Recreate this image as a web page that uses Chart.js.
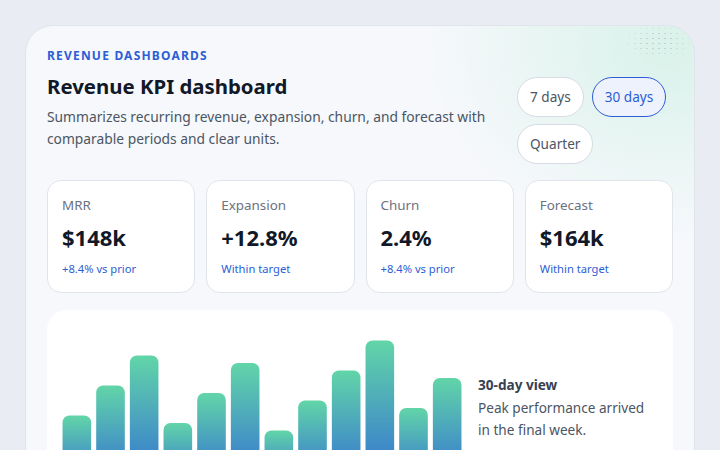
<!DOCTYPE html>
<html>
<head>
<meta charset="utf-8">
<script src="https://cdn.jsdelivr.net/npm/chart.js@4.4.1/dist/chart.umd.min.js"></script>
<style>
  html, body { margin: 0; padding: 0; }
  body {
    width: 720px; height: 450px; overflow: hidden;
    background: #e9ecf3;
    font-family: "Noto Sans", "Open Sans", sans-serif;
    position: relative;
  }
  .shell {
    position: absolute; left: 25px; top: 25px; width: 670px; height: 520px;
    box-sizing: border-box;
    border-radius: 28px; border: 1px solid #e0e4eb;
    background:
      radial-gradient(ellipse 240px 190px at 96% 4%, rgba(212, 241, 231, 0.85), rgba(212, 241, 231, 0) 100%),
      #f6f8fb;
    overflow: hidden;
  }
  .dots {
    position: absolute; right: 4px; top: 0; width: 70px; height: 40px;
    background-image: radial-gradient(circle, #bccfd5 0.7px, transparent 1.1px);
    background-size: 6px 5px;
    -webkit-mask-image: radial-gradient(ellipse 36px 18px at 55% 40%, #000 35%, transparent 100%);
    mask-image: radial-gradient(ellipse 36px 18px at 55% 40%, #000 35%, transparent 100%);
  }
  .eyebrow {
    position: absolute; left: 21px; top: 22px;
    font-size: 12px; font-weight: 700; letter-spacing: 1.2px; color: #2c5ed6;
    line-height: 16px;
  }
  h1 {
    position: absolute; left: 21px; top: 44px; margin: 0;
    font-size: 20.4px; font-weight: 700; color: #111827; line-height: 32px;
  }
  .desc {
    position: absolute; left: 21px; top: 80px; width: 450px; margin: 0;
    font-size: 13.8px; color: #4b5563; line-height: 22px;
  }
  .ranges {
    position: absolute; left: 491px; top: 51px; width: 160px;
    display: flex; flex-wrap: wrap; gap: 7px 8px;
  }
  .ranges span {
    display: inline-block; height: 40px; line-height: 38px; box-sizing: border-box;
    padding: 0 12px; border-radius: 20px; border: 1px solid #d6dbe4;
    background: #fff; color: #4b5563; font-size: 13.6px;
  }
  .ranges span.on { border-color: #2c5ed6; background: #edf2fd; color: #2c5ed6; }
  .kpis {
    position: absolute; left: 21px; top: 154px; width: 626px;
    display: grid; grid-template-columns: repeat(4, 1fr); gap: 11px;
  }
  .kpi {
    height: 113px; box-sizing: border-box; padding: 14px 14px;
    background: #fff; border: 1px solid #e0e4eb; border-radius: 14px;
  }
  .kpi .label { font-size: 13.4px; color: #6b7280; line-height: 20px; }
  .kpi .value { font-size: 22px; font-weight: 700; color: #111827; line-height: 30px; margin-top: 7px; }
  .kpi .note { font-size: 11.2px; color: #2c5ed6; line-height: 16px; margin-top: 9px; }
  .panel {
    position: absolute; left: 21px; top: 284px; width: 626px; height: 220px;
    background: #fff; border-radius: 20px;
  }
  .chart-box { position: absolute; left: 13px; top: 23px; width: 404px; height: 150px; }
  .side {
    position: absolute; left: 431px; top: 64px; width: 180px;
    font-size: 13.6px; color: #4b5563; line-height: 22.5px;
  }
  .side b { color: #374151; display: block; }
</style>
</head>
<body>
<div class="shell">
  <div class="dots"></div>
  <div class="eyebrow">REVENUE DASHBOARDS</div>
  <h1>Revenue KPI dashboard</h1>
  <p class="desc">Summarizes recurring revenue, expansion, churn, and forecast with comparable periods and clear units.</p>
  <div class="ranges">
    <span>7 days</span><span class="on">30 days</span><span>Quarter</span>
  </div>
  <div class="kpis" id="kpis"></div>
  <div class="panel">
    <div class="chart-box"><canvas id="bars"></canvas></div>
    <div class="side"><b>30-day view</b>Peak performance arrived in the final week.</div>
  </div>
</div>
<script>
// kpi tiles
var kpiLabels = ["MRR", "Expansion", "Churn", "Forecast"];
var kpiValues = ["$148k", "+12.8%", "2.4%", "$164k"];
var kpiNotes = ["+8.4% vs prior", "Within target", "+8.4% vs prior", "Within target"];

// bar series (relative performance, 0-100)
var periods = ["P1", "P2", "P3", "P4", "P5", "P6", "P7", "P8", "P9", "P10", "P11", "P12"];
var performance = [45, 65, 85, 40, 60, 80, 35, 55, 75, 95, 50, 70];

var grid = document.getElementById("kpis");
kpiLabels.forEach(function (label, i) {
    var card = document.createElement("div");
    card.className = "kpi";
    card.innerHTML = '<div class="label">' + label + '</div>' +
        '<div class="value">' + kpiValues[i] + '</div>' +
        '<div class="note">' + kpiNotes[i] + '</div>';
    grid.appendChild(card);
});

function barFill(ctx) {
    var chart = ctx.chart;
    if (!chart.chartArea || ctx.raw === undefined) {
        return "#5fd3a9";
    }
    var y = chart.scales.y;
    var top = y.getPixelForValue(ctx.raw);
    var base = y.getPixelForValue(0);
    var g = chart.ctx.createLinearGradient(0, top, 0, base);
    g.addColorStop(0, "#62d5a8");
    g.addColorStop(1, "#3371d3");
    return g;
}

new Chart(document.getElementById("bars"), {
    type: "bar",
    data: {
        labels: periods,
        datasets: [{
            data: performance,
            backgroundColor: barFill,
            borderRadius: 7,
            borderSkipped: "bottom",
            categoryPercentage: 1,
            barPercentage: 0.85
        }]
    },
    options: {
        responsive: true,
        maintainAspectRatio: false,
        animation: false,
        layout: { padding: 0 },
        plugins: { legend: { display: false }, tooltip: { enabled: false } },
        scales: {
            x: { display: false },
            y: { display: false, min: 0, max: 100 }
        }
    }
});
</script>
</body>
</html>
